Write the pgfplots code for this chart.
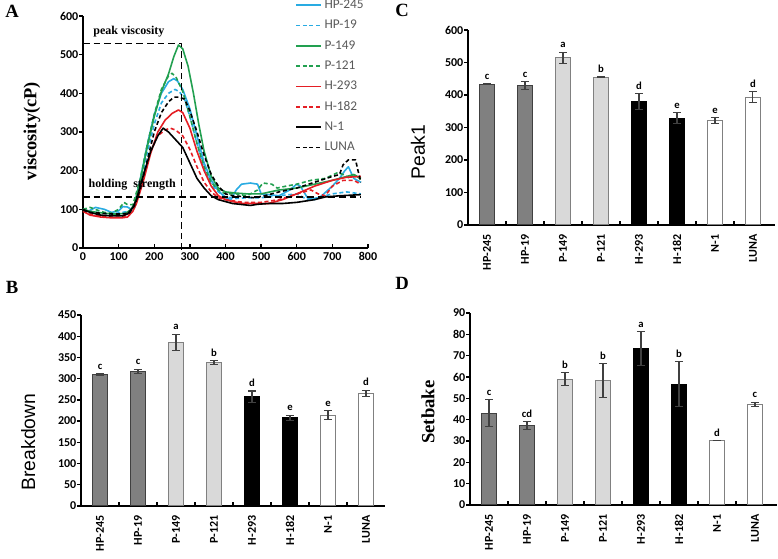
\documentclass[border=0pt]{standalone}
\usepackage{pgfplots}
\pgfplotsset{compat=1.18}
\usepackage{fontspec}
\setmainfont{Liberation Serif}
\newfontfamily\carl{Carlito}
\newfontfamily\arialf{Liberation Sans}
\definecolor{cy}{RGB}{41,171,226}
\definecolor{gr}{RGB}{34,160,80}
\definecolor{rd}{RGB}{228,30,36}
\definecolor{dg}{RGB}{128,128,128}
\definecolor{lg}{RGB}{217,217,217}
\definecolor{eg}{RGB}{64,64,64}
\definecolor{lt}{RGB}{89,89,89}
\pgfplotsset{
 common/.style={scale only axis, axis lines*=left, axis line style={line width=1.3pt,-},
   tick align=inside, major tick length=3pt, minor tick length=3pt,
   tick style={line width=1pt, black}, ytick style={xshift=-3pt},
   /pgf/number format/assume math mode=true,
   tick label style={font=\carl\bfseries\fontsize{9}{10}\selectfont}, clip=false},
 barax/.style={common, xmin=-0.5, ymin=0, xtick={0,...,7}, xticklabels={,,,,,,,},
   major x tick style={draw=none}, minor xtick={0.5,1.5,...,6.5}},
 bars/.style={ybar, bar width=11.25pt, bar shift=0pt, line width=0.75pt,
   /pgfplots/error bars/y dir=both, /pgfplots/error bars/y explicit,
   /pgfplots/error bars/error bar style={color=eg, line width=0.8pt},
   /pgfplots/error bars/error mark options={rotate=90, mark size=3pt, line width=0.8pt, color=eg}},
 letters/.style={draw=none, mark=none, nodes near coords, point meta=explicit symbolic,
   nodes near coords style={font=\carl\bfseries\fontsize{8}{8}\selectfont, anchor=south, inner sep=1pt, yshift=2pt, text=black}},
 labs/.style={draw=none, mark=none, nodes near coords, point meta=explicit symbolic,
   nodes near coords style={font=\carl\bfseries\fontsize{9}{10}\selectfont, yshift=-6pt, rotate=#1, anchor=east, inner sep=1pt, text=black}},
}
\begin{document}
\begin{tikzpicture}
\path[use as bounding box] (0,0) rectangle (583.5pt,419.25pt);
% ---------------- A
\begin{axis}[common, at={(62.25pt,233.25pt)}, anchor=south west,
  width=213.75pt, height=174pt, xmin=0, xmax=800, ymin=0, ymax=600,
  xtick={0,100,...,800}, ytick={0,100,...,600},
  ylabel={\bfseries viscosity(cP)},
  ylabel style={at={(axis description cs:-0.179,0.504)}, anchor=center, font=\fontsize{13.8}{14}\selectfont},
  legend cell align=left,
  legend image code/.code={\draw[#1, line width=1.2pt] (0pt,0pt) -- (18.75pt,0pt);},
  legend style={at={(axis description cs:0.744,1.085)}, anchor=north west, draw=none, fill=none,
    inner sep=0pt, row sep=2.25pt, text=lt, font=\carl\fontsize{10}{10}\selectfont,
    nodes={inner sep=2pt, text height=7pt, text depth=2pt}},
  every axis plot/.append style={line width=1.2pt, line join=round}]
\addplot[cy] coordinates {(0,100)(15,95)(35,105)(60,100)(80,92)(100,96)(112,107)(125,106)(135,100)(145,115)(160,175)(180,265)(200,345)(220,400)(240,430)(255,438)(265,432)(280,410)(300,360)(320,290)(340,220)(360,175)(380,148)(400,130)(415,125)(430,150)(445,165)(470,168)(490,165)(500,140)(520,138)(550,135)(580,150)(600,165)(610,160)(630,130)(650,125)(670,135)(700,160)(720,180)(735,200)(745,210)(760,180)(780,170)};
\addlegendentry{HP-245}
\addplot[cy, dash pattern=on 3pt off 2pt] coordinates {(0,100)(20,95)(50,90)(80,88)(110,92)(130,95)(145,105)(160,160)(180,245)(200,320)(220,375)(240,400)(258,410)(270,405)(285,385)(300,340)(320,270)(340,205)(360,165)(380,145)(400,132)(430,128)(460,130)(500,130)(550,135)(600,140)(630,125)(660,130)(700,140)(740,145)(780,140)};
\addlegendentry{HP-19}
\addplot[gr] coordinates {(0,100)(20,95)(40,92)(60,90)(80,88)(100,88)(120,90)(135,100)(145,115)(160,170)(180,260)(200,340)(220,405)(240,450)(255,495)(268,525)(280,515)(295,470)(310,400)(325,320)(340,250)(360,185)(380,155)(400,145)(430,142)(460,140)(500,140)(550,150)(600,155)(650,165)(700,175)(740,185)(760,190)(780,180)};
\addlegendentry{P-149}
\addplot[gr, dash pattern=on 3pt off 2pt] coordinates {(0,100)(20,105)(40,98)(60,92)(80,90)(100,100)(115,118)(125,112)(140,112)(160,175)(180,265)(200,345)(220,410)(240,445)(250,452)(262,440)(280,405)(300,340)(320,270)(340,210)(360,170)(380,150)(400,140)(430,140)(460,135)(490,150)(505,168)(530,165)(545,155)(570,160)(600,165)(640,175)(680,180)(715,195)(730,190)(745,182)(760,190)(780,178)};
\addlegendentry{P-121}
\addplot[rd] coordinates {(0,95)(20,85)(50,80)(80,78)(110,78)(125,80)(140,95)(150,115)(170,175)(190,245)(210,300)(230,330)(250,348)(268,357)(280,350)(300,310)(320,250)(340,200)(360,160)(380,135)(400,125)(420,120)(450,115)(480,115)(520,115)(560,125)(600,140)(650,160)(700,175)(740,183)(780,185)};
\addlegendentry{H-293}
\addplot[rd, dash pattern=on 3pt off 2pt] coordinates {(0,95)(20,88)(50,82)(80,80)(110,80)(125,85)(140,100)(150,120)(170,185)(190,250)(210,290)(230,305)(245,310)(260,305)(280,290)(300,255)(320,210)(340,170)(360,145)(380,130)(400,125)(450,118)(500,118)(550,125)(600,140)(640,150)(660,140)(680,135)(700,160)(730,175)(760,175)(780,165)};
\addlegendentry{H-182}
\addplot[black] coordinates {(0,100)(20,92)(50,85)(80,83)(110,83)(125,88)(140,105)(150,125)(170,190)(190,250)(210,290)(225,310)(240,300)(260,280)(280,260)(300,220)(320,180)(340,155)(360,135)(380,125)(400,120)(420,115)(450,112)(470,110)(490,113)(520,115)(560,115)(600,118)(650,125)(680,132)(720,135)(780,138)};
\addlegendentry{N-1}
\addplot[black, dash pattern=on 3pt off 2pt] coordinates {(0,98)(20,92)(50,90)(80,88)(110,88)(130,90)(145,110)(160,150)(180,225)(200,300)(220,350)(240,378)(255,390)(270,390)(285,385)(300,355)(320,300)(340,240)(360,190)(380,160)(400,140)(420,135)(450,133)(480,130)(510,135)(550,145)(600,155)(650,170)(700,185)(720,190)(730,215)(745,228)(765,228)(772,200)(780,170)};
\addlegendentry{LUNA}
\addplot[black, line width=1pt, dash pattern=on 5pt off 3pt, forget plot] coordinates {(0,529)(277,529)(277,-12)};
\addplot[black, line width=1pt, dash pattern=on 5pt off 3pt, forget plot] coordinates {(0,132)(780,132)};
\node[font=\bfseries\fontsize{9}{10}\selectfont] at (axis cs:129,559) {peak viscosity};
\node[font=\bfseries\fontsize{9}{10}\selectfont] at (axis cs:138,163) {holding\enspace strength};
\end{axis}
% ---------------- B
\begin{axis}[barax, at={(60.75pt,39.75pt)}, anchor=south west, width=228pt, height=143.25pt,
  xmax=7.5, ymax=450, ytick={0,50,...,450}, ylabel={Breakdown},
  ylabel style={at={(axis description cs:-0.174,0.335)}, anchor=center, font=\arialf\fontsize{14.5}{15}\selectfont}]
\addplot[fill=dg, draw=eg, bars] coordinates {(0,310) +- (0,2) (1,317) +- (0,5)};
\addplot[fill=lg, draw=dg, bars] coordinates {(2,386) +- (0,19) (3,338) +- (0,5)};
\addplot[fill=black, draw=black, bars] coordinates {(4,257) +- (0,14) (5,208) +- (0,6)};
\addplot[fill=white, draw=dg, bars] coordinates {(6,214) +- (0,10) (7,266) +- (0,7)};
\addplot[letters] coordinates {(0,312)[c] (1,322)[c] (2,405)[a] (3,343)[b] (4,271)[d] (5,214)[e] (6,224)[e] (7,273)[d]};
\addplot[labs=90] coordinates {(0,0)[HP-245] (1,0)[HP-19] (2,0)[P-149] (3,0)[P-121] (4,0)[H-293] (5,0)[H-182] (6,0)[N-1] (7,0)[LUNA]};
\end{axis}
% ---------------- C
\begin{axis}[barax, at={(351pt,250.5pt)}, anchor=south west, width=230.25pt, height=146.25pt,
  xmax=7.58, ymax=600, ytick={0,100,...,600}, ylabel={Peak1},
  ylabel style={at={(axis description cs:-0.163,0.374)}, anchor=center, font=\arialf\fontsize{14.5}{15}\selectfont}]
\addplot[fill=dg, draw=eg, bars] coordinates {(0,433) +- (0,2) (1,429) +- (0,12)};
\addplot[fill=lg, draw=dg, bars] coordinates {(2,515) +- (0,17) (3,455) +- (0,2)};
\addplot[fill=black, draw=black, bars] coordinates {(4,380) +- (0,24) (5,329) +- (0,17)};
\addplot[fill=white, draw=dg, bars] coordinates {(6,321) +- (0,9) (7,393) +- (0,17)};
\addplot[letters] coordinates {(0,435)[c] (1,441)[c] (2,532)[a] (3,457)[b] (4,404)[d] (5,346)[e] (6,330)[e] (7,410)[d]};
\addplot[labs=90] coordinates {(0,0)[HP-245] (1,0)[HP-19] (2,0)[P-149] (3,0)[P-121] (4,0)[H-293] (5,0)[H-182] (6,0)[N-1] (7,0)[LUNA]};
\end{axis}
% ---------------- D
\begin{axis}[barax, at={(352.5pt,40.5pt)}, anchor=south west, width=230.25pt, height=144pt,
  xmax=7.58, ymax=90, ytick={0,10,...,90}, ylabel={\bfseries Setbake},
  ylabel style={at={(axis description cs:-0.137,0.484)}, anchor=center, font=\fontsize{14}{15}\selectfont}]
\addplot[fill=dg, draw=eg, bars] coordinates {(0,43) +- (0,6.3) (1,37.2) +- (0,2)};
\addplot[fill=lg, draw=dg, bars] coordinates {(2,59) +- (0,3) (3,58.2) +- (0,8)};
\addplot[fill=black, draw=black, bars] coordinates {(4,73.2) +- (0,8) (5,56.7) +- (0,10.5)};
\addplot[fill=white, draw=dg, bars] coordinates {(6,30.1) +- (0,0) (7,47.2) +- (0,1)};
\addplot[letters] coordinates {(0,49.3)[c] (1,39.2)[cd] (2,62)[b] (3,66.2)[b] (4,81.2)[a] (5,67.2)[b] (6,30.1)[d] (7,48.2)[c]};
\addplot[labs=90] coordinates {(0,0)[HP-245] (1,0)[HP-19] (2,0)[P-149] (3,0)[P-121] (4,0)[H-293] (5,0)[H-182] (6,0)[N-1] (7,0)[LUNA]};
\end{axis}
% panel letters
\node[font=\bfseries\fontsize{14}{15}\selectfont] at (9pt,411pt) {A};
\node[font=\bfseries\fontsize{14}{15}\selectfont] at (9pt,204pt) {B};
\node[font=\bfseries\fontsize{14}{15}\selectfont] at (301.5pt,411.75pt) {C};
\node[font=\bfseries\fontsize{14}{15}\selectfont] at (301.5pt,207pt) {D};
\end{tikzpicture}
\end{document}
